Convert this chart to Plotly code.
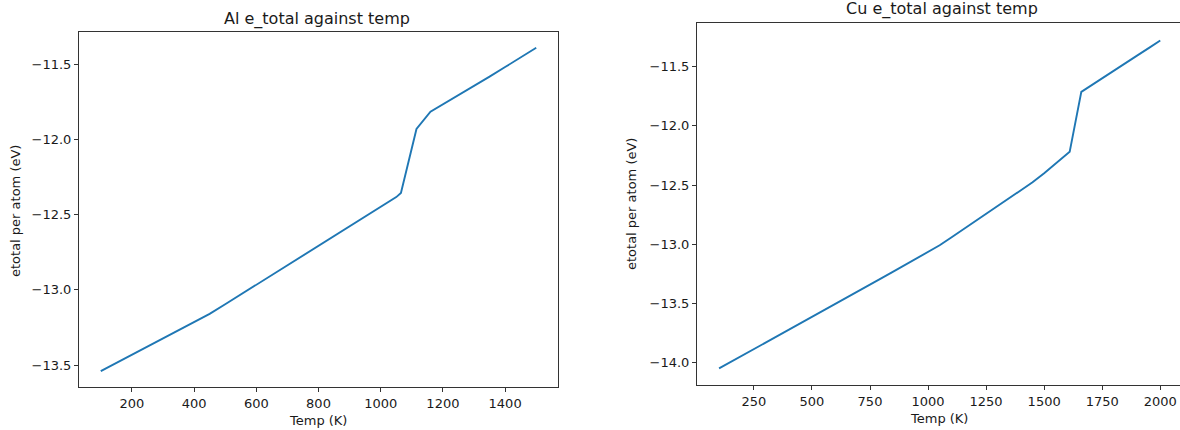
import plotly.graph_objects as go

W, H = 1180, 430

al_temp = [100, 150, 200, 250, 300, 350, 400, 450, 500, 550, 600, 650, 700, 750,
           800, 850, 900, 950, 1000, 1050, 1065, 1100, 1115, 1160, 1200, 1250,
           1300, 1350, 1400, 1450, 1500]
al_etotal = [-13.540, -13.485, -13.431, -13.376, -13.322, -13.267, -13.213, -13.160,
             -13.096, -13.031, -12.966, -12.900, -12.835, -12.770, -12.705, -12.640,
             -12.575, -12.510, -12.448, -12.383, -12.355, -12.070, -11.930, -11.815,
             -11.767, -11.707, -11.646, -11.582, -11.518, -11.454, -11.390]

cu_temp = [100, 150, 200, 250, 300, 350, 400, 450, 500, 550, 600, 650, 700, 750,
           800, 850, 900, 950, 1000, 1050, 1100, 1150, 1200, 1250, 1300, 1350,
           1400, 1450, 1500, 1550, 1600, 1610, 1660, 1700, 1750, 1800, 1850,
           1900, 1950, 2000]
cu_etotal = [-14.050, -13.996, -13.941, -13.887, -13.833, -13.778, -13.724, -13.670,
             -13.615, -13.561, -13.507, -13.452, -13.397, -13.342, -13.287, -13.232,
             -13.177, -13.122, -13.067, -13.009, -12.943, -12.877, -12.810, -12.744,
             -12.678, -12.611, -12.545, -12.477, -12.400, -12.318, -12.235, -12.218,
             -11.712, -11.662, -11.598, -11.534, -11.470, -11.406, -11.342, -11.278]

al_xticks = [200, 400, 600, 800, 1000, 1200, 1400]
al_yticks = [-13.5, -13.0, -12.5, -12.0, -11.5]
cu_xticks = [250, 500, 750, 1000, 1250, 1500, 1750, 2000]
cu_yticks = [-14.0, -13.5, -13.0, -12.5, -12.0, -11.5]

LINE = "#1f77b4"
TXT = "#1a1a1a"
FONT = "DejaVu Sans"

fig = go.Figure()
fig.add_trace(go.Scatter(x=al_temp, y=al_etotal, mode="lines",
                         line=dict(color=LINE, width=1.9), xaxis="x", yaxis="y",
                         showlegend=False))
fig.add_trace(go.Scatter(x=cu_temp, y=cu_etotal, mode="lines",
                         line=dict(color=LINE, width=1.9), xaxis="x2", yaxis="y2",
                         showlegend=False))

def px(x):
    return x / W

def py(y):
    return 1 - y / H

def fmt(v):
    return f"{v:.1f}".replace("-", "\u2212")

def axstyle(mirror=True):
    return dict(showgrid=False, zeroline=False, showline=True, linecolor="#333333",
                linewidth=1, mirror=mirror, ticks="outside", ticklen=4, tickwidth=1,
                tickcolor="#333333", tickfont=dict(family=FONT, size=13, color=TXT))

fig.update_layout(
    width=W, height=H,
    margin=dict(l=0, r=0, t=0, b=0),
    paper_bgcolor="white", plot_bgcolor="white",
    xaxis=dict(domain=[px(79), px(558)], range=[30, 1570], anchor="y",
               tickvals=al_xticks, ticktext=[str(v) for v in al_xticks], **axstyle()),
    yaxis=dict(domain=[py(387), py(32)], range=[-13.646, -11.285], anchor="x",
               tickvals=al_yticks, ticktext=[fmt(v) for v in al_yticks], **axstyle()),
    xaxis2=dict(domain=[px(697), 1.0], range=[5, 2085], anchor="y2",
                tickvals=cu_xticks, ticktext=[str(v) for v in cu_xticks], **axstyle(True)),
    yaxis2=dict(domain=[py(385), py(23)], range=[-14.19, -11.13], anchor="x2",
                tickvals=cu_yticks, ticktext=[fmt(v) for v in cu_yticks], **axstyle(False)),
)

def ann(text, x, y, size, angle=0):
    fig.add_annotation(text=text, x=px(x), y=py(y), xref="paper", yref="paper",
                       showarrow=False, xanchor="center", yanchor="middle",
                       textangle=angle, font=dict(family=FONT, size=size, color=TXT))

ann("Al e_total against temp", 317, 19, 16)
ann("Cu e_total against temp", 942, 9, 16)
ann("Temp (K)", 318, 420, 13)
ann("Temp (K)", 939, 418, 13)
ann("etotal per atom (eV)", 15, 211, 13, -90)
ann("etotal per atom (eV)", 631, 204, 13, -90)

fig.write_html("out.html")
